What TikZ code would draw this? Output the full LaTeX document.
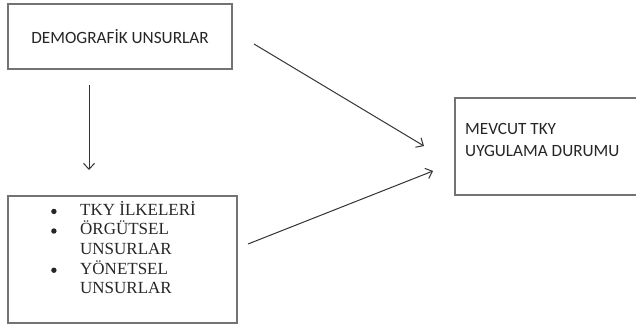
\documentclass[tikz,border=0pt]{standalone}
\usepackage{fontspec}
\setmainfont{Liberation Serif}
\newfontfamily\calfont{Carlito}
\usetikzlibrary{arrows.meta}
\newcommand{\mybul}{\makebox[30pt][l]{\hspace*{1pt}\tikz[baseline=-0.5pt]\fill[black!85] (0,3.3pt) circle (2.7pt);}}
\begin{document}
\begin{tikzpicture}[x=1pt,y=-1pt,
  boxstyle/.style={draw=black!55,line width=1.1pt,inner sep=0pt},
  conn/.style={draw=black!80,line width=1pt,-{Straight Barb[length=6pt,width=11pt,line width=1pt]}},
  caltext/.style={font=\calfont\fontsize{17.2}{22}\selectfont,text=black!85,inner sep=0pt},
  sertext/.style={font=\fontsize{17}{19.6}\selectfont,text=black!85,inner sep=0pt}]
\path[use as bounding box,clip] (0,0) rectangle (636,326);
\fill[white] (0,0) rectangle (636,326);
% boxes
\node[boxstyle,minimum width=224pt,minimum height=65pt] (demo) at (120,36.5) {};
\node[boxstyle,minimum width=229pt,minimum height=127pt] (tky) at (122.5,259.5) {};
\node[boxstyle,minimum width=200pt,minimum height=97pt] (mev) at (555,146.5) {};
% texts
\node[caltext] (demotext) at (120,37) {DEMOGRAFİK UNSURLAR};
\node[caltext,anchor=north west,align=left] (mevtext) at (465,123) {MEVCUT TKY\\UYGULAMA DURUMU};
\node[sertext,anchor=north west,align=left] (tkytext) at (50,201)
 {\mybul TKY İLKELERİ\\
  \mybul ÖRGÜTSEL\\
  \hspace*{30pt}UNSURLAR\\
  \mybul YÖNETSEL\\
  \hspace*{30pt}UNSURLAR};
% connectors
\coordinate (d1) at (89,85);
\coordinate (d2) at (89,170);
\coordinate (a1s) at (254,44);
\coordinate (a1e) at (424,146);
\coordinate (a2s) at (248,244);
\coordinate (a2e) at (433,171);
\draw[conn] (d1) -- (d2);
\draw[conn] (a1s) -- (a1e);
\draw[conn] (a2s) -- (a2e);
\end{tikzpicture}
\end{document}
